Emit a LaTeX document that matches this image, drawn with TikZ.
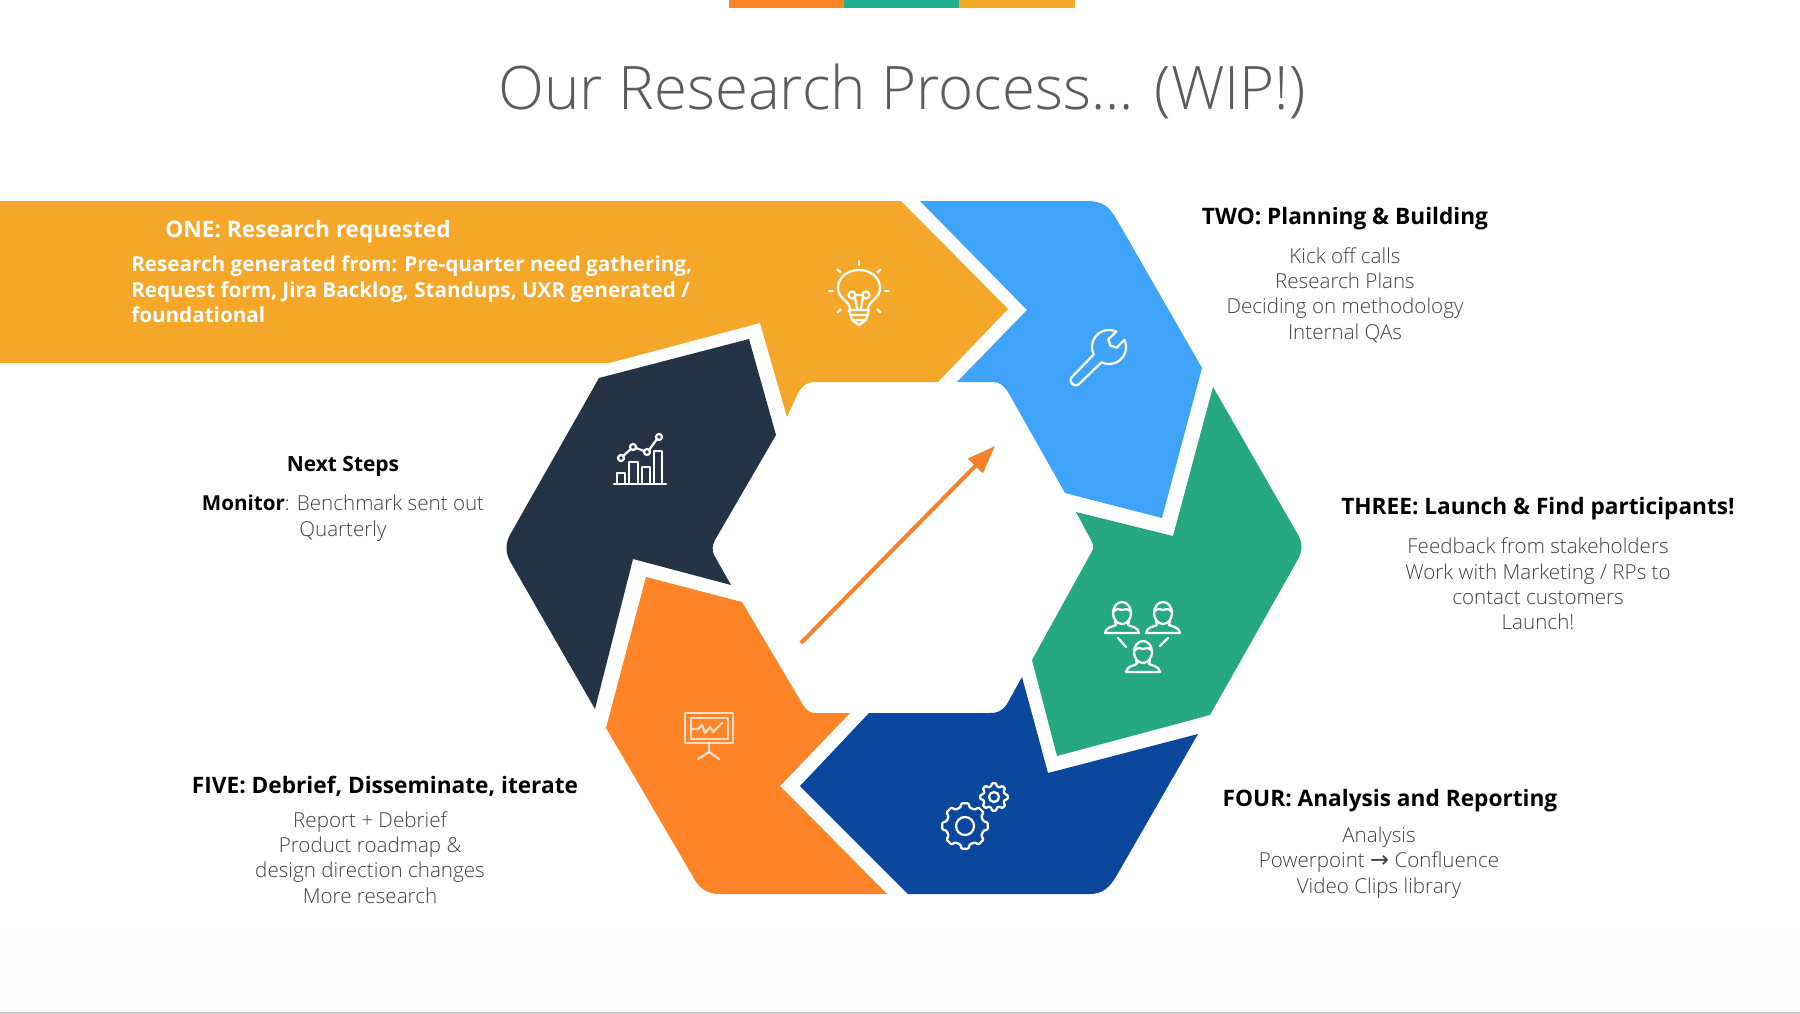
\documentclass[tikz,border=0pt]{standalone}
\usepackage{fontspec}
\usetikzlibrary{arrows.meta}
\setmainfont{Open Sans}
\newfontfamily\oslight{Open Sans Light}
\definecolor{cyel}{HTML}{F5A72A}
\definecolor{cblu}{HTML}{3FA3FA}
\definecolor{cgrn}{HTML}{26A880}
\definecolor{cdbl}{HTML}{0B479D}
\definecolor{cora}{HTML}{FF8427}
\definecolor{cnav}{HTML}{253444}
\definecolor{cbar}{HTML}{1FAF8C}
\definecolor{carr}{HTML}{F5822A}
\definecolor{cbody}{HTML}{404040}
\definecolor{ctitle}{HTML}{5C5C5C}
\tikzset{
 icon/.style={draw=white,line width=1.7pt,line join=round,line cap=round,fill=none},
 softicon/.style={icon,draw=white,draw opacity=.72},
 head/.style={font=\fontsize{17}{22}\selectfont\bfseries,text=black,inner sep=0pt,align=center},
 bodytxt/.style={font=\oslight\fontsize{15.45}{19}\selectfont,text=cbody,inner sep=0pt,align=center},
}
\newcommand\personicon[2]{%
 \begin{scope}[shift={(#1,#2)}]
  \draw[icon] (0,0) ellipse [x radius=9,y radius=11];
  \draw[icon] (-9,-1) .. controls (-5,-6) and (-2,-3) .. (0,-3) .. controls (2,-3) and (5,-6) .. (9,-1);
  \draw[icon] (-7,8) -- (-6,12) .. controls (-10,14) and (-16,14) .. (-17,20) -- (17,20) .. controls (16,14) and (10,14) .. (6,12) -- (7,8);
 \end{scope}}
\newcommand\gearicon[5]{%
 \begin{scope}[shift={(#1,#2)}]
  \draw[icon,rounded corners=0.8pt] (-14:#3) \foreach \a in {0,45,...,315}{ -- (\a-14:#3) -- (\a-9:#4) -- (\a+9:#4) -- (\a+14:#3) } -- cycle;
  \draw[icon] (0,0) circle [radius=#5];
 \end{scope}}
\begin{document}
\begin{tikzpicture}[x=0.75pt,y=-0.75pt]
\useasboundingbox (0,0) rectangle (1800,1014);
\fill[white] (0,0) rectangle (1800,1014);
\shade[top color=white,bottom color=black!0.8] (0,900) rectangle (1800,1012);
\fill[black!22] (0,1012) rectangle (1800,1014);
% top bar
\fill[cora] (729,0) rectangle (844,8);
\fill[cbar] (844,0) rectangle (959,8);
\fill[cyel] (959,0) rectangle (1075,8);
\node[inner sep=0pt,text=ctitle,font=\oslight\fontsize{45}{56}\selectfont] (title) at (902,91.5) {Our Research Process... (WIP!)};
% segments
\fill[cyel] (0,201) -- (901,201) -- (1008,309) -- (938,382) -- (815,382) .. controls (806,382) and (802,386) .. (798,393) -- (787,417) -- (760,323) -- (609,363) -- (0,363) -- cycle;
\fill[cblu] (920,201) -- (1087,201) .. controls (1104,201) and (1110,208) .. (1117,220) -- (1202,368) -- (1162,518) -- (1065,493) -- (1008,392) .. controls (1004,386) and (1000,382) .. (993,382) -- (957,382) -- (1027,310) -- cycle;
\fill[cgrn] (1213,387) -- (1297,533) .. controls (1303,543) and (1303,551) .. (1297,561) -- (1210,715) -- (1057,756) -- (1032,660) -- (1091,553) .. controls (1094,548) and (1094,546) .. (1091,540) -- (1076,512) -- (1173,536) -- cycle;
\fill[cdbl] (1198,734) -- (1117,875) .. controls (1110,887) and (1103,894) .. (1090,894) -- (908,894) -- (800,786) -- (869,713) -- (990,713) .. controls (998,713) and (1002,711) .. (1007,704) -- (1022,677) -- (1048,773) -- cycle;
\fill[cora] (646,577) -- (742,602) -- (800,700) .. controls (805,709) and (808,713) .. (816,713) -- (850,713) -- (780,786) -- (887,894) -- (720,894) .. controls (705,894) and (698,887) .. (692,875) -- (606,728) -- cycle;
\fill[cnav] (599,378) -- (749,339) -- (776,435) -- (715,540) .. controls (712,546) and (712,549) .. (714,555) -- (731,585) -- (633,559) -- (595,709) -- (511,563) .. controls (505,553) and (505,543) .. (511,533) -- cycle;
% centre arrow
\coordinate (arrA) at (801,643);
\coordinate (arrB) at (995,446);
\draw[carr,line width=3pt,-{Triangle[length=21pt,width=15pt]}] (arrA) -- (arrB);
% bulb
\begin{scope}[shift={(859,291)}]
 \draw[icon] (-9,18) .. controls (-9,10) and (-21,8) .. (-21,-3) .. controls (-21,-14) and (-11,-21) .. (0,-21) .. controls (11,-21) and (21,-14) .. (21,-3) .. controls (21,8) and (9,10) .. (9,18);
 \draw[icon] (-7,4) circle [radius=3.5];
 \draw[icon] (7,4) circle [radius=3.5];
 \draw[icon] (-4,6) -- (-2,18) (4,6) -- (2,18) (-4,4) -- (4,4);
 \draw[icon] (-10,19) -- (10,19) (-9,24) -- (9,24) (-7,29) -- (7,29) (-7,29) -- (0,34) -- (7,29) (-10,19) -- (-7,29) (10,19) -- (7,29);
 \foreach \a in {-90,-45,-135,0,180,45,135}{\draw[icon] (\a:26) -- (\a:30);}
\end{scope}
% wrench
\begin{scope}[shift={(1109,347)},rotate=45]
 \draw[icon] (-47,-5) -- plot[domain=199:340,samples=24] ({17*cos(\x)},{17*sin(\x)}) -- (5,-6) -- (2,0) -- (5,6) -- plot[domain=20:161,samples=24] ({17*cos(\x)},{17*sin(\x)}) -- (-47,5) .. controls (-54,5) and (-54,-5) .. (-47,-5) -- cycle;
\end{scope}
% people
\personicon{1122}{613}
\personicon{1163}{613}
\personicon{1143}{652}
\draw[icon] (1118,638) -- (1126,647) (1168,638) -- (1160,646);
% gears
\gearicon{965}{826}{19}{23}{9}
\gearicon{994}{797}{11}{14}{5}
% presentation
\draw[softicon] (685,713) rectangle (733,743);
\draw[softicon] (691,718) rectangle (728,739);
\draw[softicon] (692,729) -- (698,729) -- (702,725) -- (705,733) -- (710,727) -- (713,732) -- (722,723);
\draw[softicon] (709,743) -- (709,752) (698,759) -- (709,752) -- (719,759);
% chart
\draw[icon] (614,484) -- (666,484);
\draw[icon] (617,484) -- (617,473) -- (625,473) -- (625,484);
\draw[icon] (629,484) -- (629,462) -- (638,462) -- (638,484);
\draw[icon] (642,484) -- (642,467) -- (650,467) -- (650,484);
\draw[icon] (654,484) -- (654,451) -- (662,451) -- (662,484);
\draw[icon] (621,458) circle [radius=3] (633,447) circle [radius=3] (647,452) circle [radius=3] (659,437) circle [radius=3];
\draw[icon] (623,456) -- (631,449) (636,448) -- (644,451) (649,450) -- (657,439);
% texts
\node[head,text=white] (oneH) at (308,231.5) {ONE: Research requested};
\node[anchor=west,inner sep=0pt,align=left,text=white,font=\bfseries\fontsize{15.5}{19}\selectfont] (oneB) at (131,289.5) {Research generated from: Pre-quarter need gathering,\\Request form, Jira Backlog, Standups, UXR generated /\\foundational};
\node[head] (twoH) at (1345,218.5) {TWO: Planning \& Building};
\node[bodytxt] (twoB) at (1345,295) {Kick off calls\\Research Plans\\Deciding on methodology\\Internal QAs};
\node[head] (threeH) at (1538,508.5) {THREE: Launch \& Find participants!};
\node[bodytxt] (threeB) at (1538,584) {Feedback from stakeholders\\Work with Marketing / RPs to\\contact customers\\Launch!};
\node[head] (fourH) at (1390,800.5) {FOUR: Analysis and Reporting};
\node[bodytxt] (fourB) at (1379,862.5) {Analysis\\Powerpoint {\fontspec{DejaVu Sans}\fontsize{17}{19}\selectfont →} Confluence\\Video Clips library};
\node[head] (fiveH) at (385,786.5) {FIVE: Debrief, Disseminate, iterate};
\node[bodytxt] (fiveB) at (370,857.5) {Report + Debrief\\Product roadmap \&\\design direction changes\\More research};
\node[head,font=\fontsize{15.7}{22}\selectfont\bfseries] (nextH) at (343,466) {Next Steps};
\node[bodytxt] (nextB) at (343,518) {{\fontspec{Open Sans}\bfseries\color{black}Monitor}: Benchmark sent out\\Quarterly};
\end{tikzpicture}
\end{document}
